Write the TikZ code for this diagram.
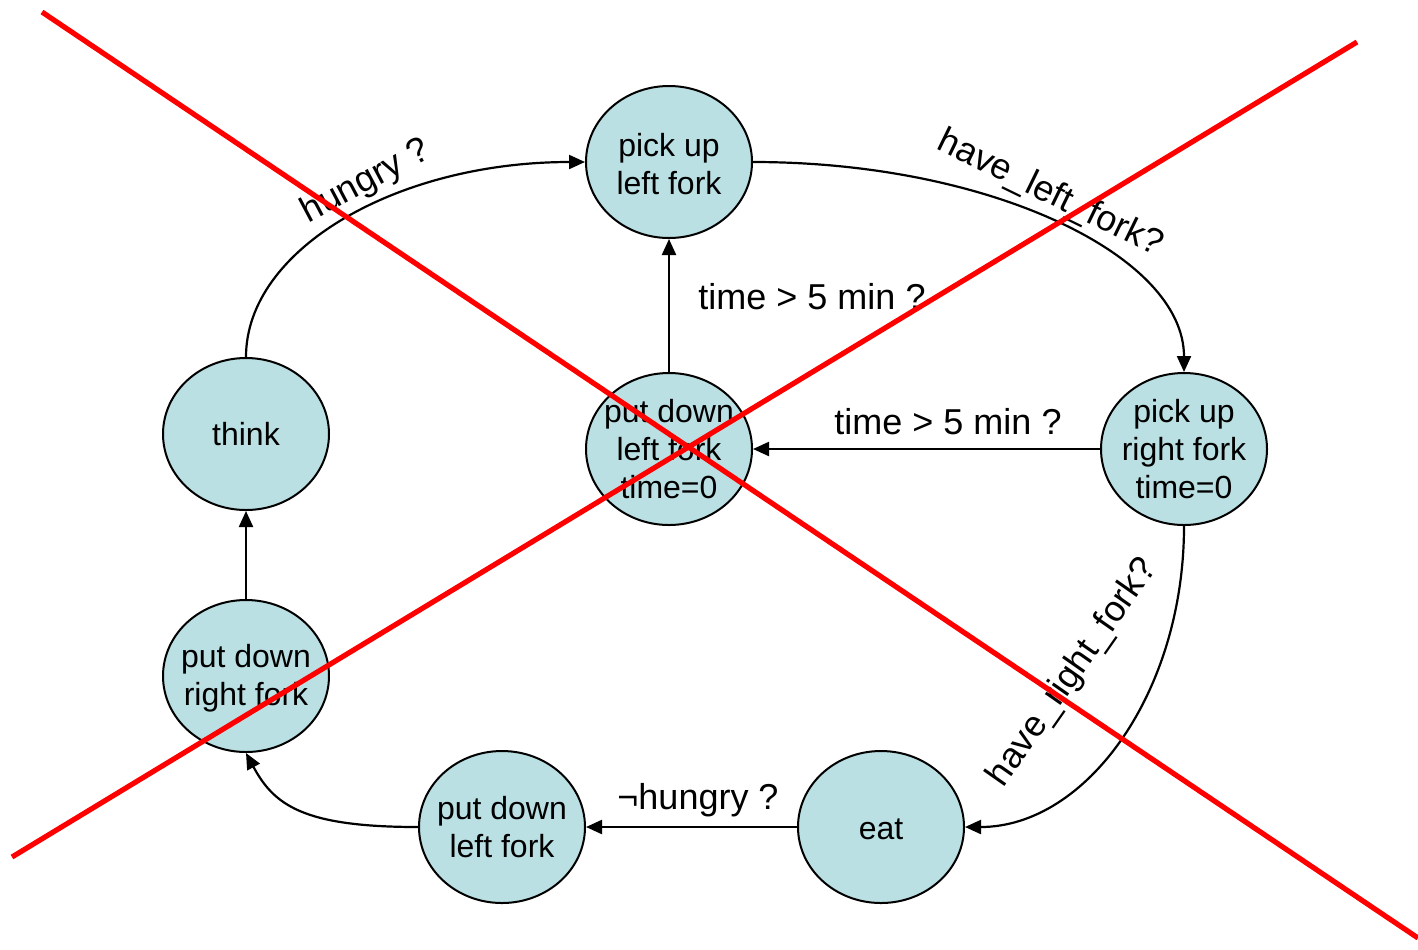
\documentclass[tikz,border=0pt]{standalone}
\usepackage{fontspec}
\setmainfont{Liberation Sans}
\usetikzlibrary{shapes.geometric,arrows.meta}
\definecolor{statefill}{RGB}{186,224,227}
\definecolor{crossred}{RGB}{255,0,0}
\tikzset{
  state/.style={ellipse, draw=black, line width=1pt, fill=statefill,
    minimum width=83pt, minimum height=76pt, inner sep=0pt},
  statetext/.style={align=center, font=\fontsize{16}{19}\selectfont, inner sep=0pt},
  edgelabel/.style={font=\fontsize{18}{21}\selectfont, inner sep=0pt},
  conn/.style={line width=1.1pt, -{Triangle[length=8pt,width=7pt]}},
  crossline/.style={line width=2.6pt, crossred}
}
\begin{document}
\begin{tikzpicture}[x=0.5pt,y=-0.5pt]
\useasboundingbox (0,0) rectangle (1418,949);

% states
\node[state] (pickL) at (669,162) {};
\node[statetext] at ([yshift=-1pt]pickL.center) {pick up\\left fork};
\node[state] (downLt) at (669,449) {};
\node[statetext] at (downLt) {put down\\left fork\\time=0};
\node[state] (pickR) at (1184,449) {};
\node[statetext] at (pickR) {pick up\\right fork\\time=0};
\node[state] (think) at (246,434) {};
\node[statetext] at (think) {think};
\node[state] (downR) at (246,676) {};
\node[statetext] at ([yshift=-1pt]downR.center) {put down\\right fork};
\node[state] (downL) at (502,827) {};
\node[statetext] at (downL) {put down\\left fork};
\node[state] (eat) at (881,827) {};
\node[statetext] at ([yshift=-1pt]eat.center) {eat};

% connectors
\draw[conn] (think.north) .. controls +(0,-108) and +(-188,0) .. (pickL.west);
\draw[conn] (pickL.east) .. controls +(238,0) and +(0,-116) .. (pickR.north);
\draw[conn] (downLt.north) -- (pickL.south);
\draw[conn] (pickR.west) -- (downLt.east);
\draw[conn] (pickR.south) .. controls +(0,167) and +(121,0) .. (eat.east);
\draw[conn] (eat.west) -- (downL.east);
\draw[conn] (downL.west) .. controls +(-115,0) and +(28,52) .. (downR.south);
\draw[conn] (downR.north) -- (think.south);

% labels
\node[edgelabel, rotate=28] (lhungry) at (366,182) {hungry ?};
\node[edgelabel, rotate=-26] (lhlf) at (1050,194) {have\_left\_fork?};
\node[edgelabel] (lt1) at (812,297) {time > 5 min ?};
\node[edgelabel] (lt2) at (948,422) {time > 5 min ?};
\node[edgelabel, rotate=55] (lhrf) at (1073,673) {have\_right\_fork?};
\node[edgelabel] (lnh) at (698,800) {¬hungry ?};

% red cross
\coordinate (c1a) at (42,12);
\coordinate (c1b) at (1418,938);
\coordinate (c2a) at (12,857);
\coordinate (c2b) at (1357,42);
\draw[crossline] (c1a) -- (c1b);
\draw[crossline] (c2a) -- (c2b);
\end{tikzpicture}
\end{document}
